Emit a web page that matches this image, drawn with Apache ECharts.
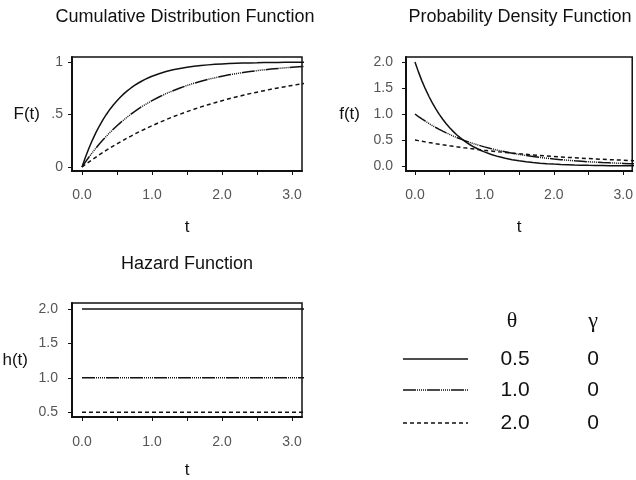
<!DOCTYPE html>
<html><head><meta charset="utf-8">
<script src="https://cdn.jsdelivr.net/npm/echarts@6/dist/echarts.min.js"></script>
<style>html,body{margin:0;padding:0;background:#fff}#c{width:636px;height:480px}</style>
</head><body><div id="c"></div><script>
// ---- data ----
const tValues = [0, .05, .1, .15, .2, .25, .3, .35, .4, .45, .5, .55, .6, .65, .7, .75, .8, .85, .9, .95, 1.0,
  1.1, 1.2, 1.3, 1.4, 1.5, 1.6, 1.7, 1.8, 1.9, 2.0, 2.1, 2.2, 2.3, 2.4, 2.5, 2.6, 2.7, 2.8, 2.9, 3.0, 3.1, 3.2];
const thetaLabels = ['0.5', '1.0', '2.0'];
const gammaLabels = ['0', '0', '0'];
const cdfTheta05 = [0, .095, .181, .259, .330, .393, .451, .503, .551, .593, .632, .667, .699, .727, .753, .777, .798, .817, .835, .850, .865,
  .889, .909, .926, .939, .950, .959, .967, .973, .978, .982, .985, .988, .990, .992, .993, .995, .996, .996, .997, .998, .998, .998];
const cdfTheta10 = [0, .049, .095, .139, .181, .221, .259, .295, .330, .362, .393, .423, .451, .478, .503, .528, .551, .573, .593, .613, .632,
  .667, .699, .727, .753, .777, .798, .817, .835, .850, .865, .878, .889, .900, .909, .918, .926, .933, .939, .945, .950, .955, .959];
const cdfTheta20 = [0, .025, .049, .072, .095, .118, .139, .161, .181, .202, .221, .240, .259, .278, .295, .313, .330, .346, .362, .378, .393,
  .423, .451, .478, .503, .528, .551, .573, .593, .613, .632, .650, .667, .683, .699, .713, .727, .741, .753, .765, .777, .788, .798];
const pdfTheta05 = [2, 1.810, 1.637, 1.482, 1.341, 1.213, 1.098, .993, .899, .813, .736, .666, .602, .545, .493, .446, .404, .365, .331, .299, .271,
  .222, .181, .149, .122, .100, .082, .067, .055, .045, .037, .030, .025, .020, .016, .013, .011, .009, .007, .006, .005, .004, .003];
const pdfTheta10 = [1, .951, .905, .861, .819, .779, .741, .705, .670, .638, .607, .577, .549, .522, .497, .472, .449, .427, .407, .387, .368,
  .333, .301, .273, .247, .223, .202, .183, .165, .150, .135, .122, .111, .100, .091, .082, .074, .067, .061, .055, .050, .045, .041];
const pdfTheta20 = [.5, .488, .476, .464, .452, .441, .430, .420, .409, .399, .389, .380, .370, .361, .352, .344, .335, .327, .319, .311, .303,
  .289, .274, .261, .248, .236, .225, .214, .203, .193, .184, .175, .166, .158, .151, .143, .136, .130, .123, .117, .112, .106, .101];
const hazT = [0, 3.2];
const hazTheta05 = [2, 2];
const hazTheta10 = [1, 1];
const hazTheta20 = [0.5, 0.5];
const xTickValues = [0, 0.5, 1, 1.5, 2, 2.5, 3];
const xLabelValues = [0, 1, 2, 3];
const cdfYTicks = [0, 0.5, 1];
const cdfYTickLabels = ['0', '.5', '1'];
const pdfYTicks = [0, 0.5, 1, 1.5, 2];
const hazYTicks = [0.5, 1, 1.5, 2];
const titles = ['Cumulative Distribution Function', 'Probability Density Function', 'Hazard Function'];

// ---- styles ----
const FONT = 'Liberation Sans, Arial, sans-serif';
const INK = '#111';
const lineTypes = [
  { type: 'solid', width: 1.5 },
  { type: [13, 1, 1, 1, 1, 1, 1, 1, 1, 1, 1, 1], width: 1.5 },
  { type: [4, 3], width: 1.5 }
];
function pairs(xs, ys) { return xs.map((x, i) => [x, ys[i]]); }

function xAxisCfg(gi, min, max, labelMargin, nameGap) {
  return {
    type: 'value', gridIndex: gi, min: min, max: max,
    splitLine: { show: false },
    axisLine: { show: true, onZero: false, lineStyle: { color: INK, width: 2 } },
    axisTick: { show: true, length: 4, customValues: xTickValues, lineStyle: { color: INK, width: 1 } },
    axisLabel: { customValues: xLabelValues, formatter: v => Number(v).toFixed(1), color: '#555', fontSize: 14, fontFamily: FONT, margin: labelMargin },
    name: 't', nameLocation: 'middle', nameGap: nameGap,
    nameTextStyle: { color: INK, fontSize: 17, fontFamily: FONT }
  };
}
function yAxisCfg(gi, min, max, ticks, fmt, labelMargin, name, nameGap) {
  return {
    type: 'value', gridIndex: gi, min: min, max: max,
    splitLine: { show: false },
    axisLine: { show: true, onZero: false, lineStyle: { color: INK, width: 2 } },
    axisTick: { show: true, length: 4, customValues: ticks, lineStyle: { color: INK, width: 1 } },
    axisLabel: { customValues: ticks, formatter: fmt, color: '#555', fontSize: 14, fontFamily: FONT, margin: labelMargin },
    name: name, nameLocation: 'middle', nameGap: nameGap, nameRotate: 0,
    nameTextStyle: { color: INK, fontSize: 17, fontFamily: FONT }
  };
}
function series(xi, data, k) {
  return {
    type: 'line', xAxisIndex: xi, yAxisIndex: xi, data: data,
    showSymbol: false, symbol: 'none', smooth: false,
    lineStyle: Object.assign({ color: INK }, lineTypes[k]), clip: true, silent: true, animation: false
  };
}

const chart = echarts.init(document.getElementById('c'));
const legendGraphics = [];
const legendRowY = [359, 390, 423];
legendGraphics.push({ type: 'text', x: 512, y: 321, style: { text: 'θ', font: '22px "Liberation Serif", serif', fill: INK, textAlign: 'center', textVerticalAlign: 'middle' } });
legendGraphics.push({ type: 'text', x: 593, y: 321, style: { text: 'γ', font: '22px "Liberation Serif", serif', fill: INK, textAlign: 'center', textVerticalAlign: 'middle' } });
thetaLabels.forEach((lab, k) => {
  const y = legendRowY[k];
  legendGraphics.push({ type: 'line', shape: { x1: 403, y1: y, x2: 468, y2: y },
    style: { stroke: INK, lineWidth: 1.5, lineDash: Array.isArray(lineTypes[k].type) ? lineTypes[k].type : null } });
  legendGraphics.push({ type: 'text', x: 515, y: y, style: { text: lab, font: '21px ' + FONT, fill: INK, textAlign: 'center', textVerticalAlign: 'middle' } });
  legendGraphics.push({ type: 'text', x: 593, y: y, style: { text: gammaLabels[k], font: '21px ' + FONT, fill: INK, textAlign: 'center', textVerticalAlign: 'middle' } });
});

const titleStyle = { fontSize: 18, fontWeight: 'normal', color: INK, fontFamily: FONT };
chart.setOption({
  animation: false,
  backgroundColor: '#fff',
  title: [
    { text: titles[0], left: 185, top: 8, textAlign: 'center', padding: 0, textStyle: titleStyle },
    { text: titles[1], left: 520, top: 8, textAlign: 'center', padding: 0, textStyle: titleStyle },
    { text: titles[2], left: 187, top: 255, textAlign: 'center', padding: 0, textStyle: titleStyle }
  ],
  grid: [
    { left: 72, top: 57, width: 230, height: 114, show: true, borderColor: INK, borderWidth: 1.5, backgroundColor: 'transparent' },
    { left: 406, top: 57, width: 228, height: 114, show: true, borderColor: INK, borderWidth: 1.5, backgroundColor: 'transparent' },
    { left: 72, top: 303, width: 230, height: 115, show: true, borderColor: INK, borderWidth: 1.5, backgroundColor: 'transparent' }
  ],
  xAxis: [
    xAxisCfg(0, -0.143, 3.143, 17, 48),
    xAxisCfg(1, -0.129, 3.129, 17, 48),
    xAxisCfg(2, -0.143, 3.143, 18, 45)
  ],
  yAxis: [
    yAxisCfg(0, -0.038, 1.048, cdfYTicks, v => cdfYTickLabels[cdfYTicks.indexOf(v)] || '', 9, 'F(t)', 32),
    yAxisCfg(1, -0.096, 2.096, pdfYTicks, v => Number(v).toFixed(1), 13, 'f(t)', 46),
    yAxisCfg(2, 0.43, 2.087, hazYTicks, v => Number(v).toFixed(1), 14, 'h(t)', 44)
  ],
  series: [
    series(0, pairs(tValues, cdfTheta05), 0),
    series(0, pairs(tValues, cdfTheta10), 1),
    series(0, pairs(tValues, cdfTheta20), 2),
    series(1, pairs(tValues, pdfTheta05), 0),
    series(1, pairs(tValues, pdfTheta10), 1),
    series(1, pairs(tValues, pdfTheta20), 2),
    series(2, pairs(hazT, hazTheta05), 0),
    series(2, pairs(hazT, hazTheta10), 1),
    series(2, pairs(hazT, hazTheta20), 2)
  ],
  graphic: legendGraphics
});
</script></body></html>
